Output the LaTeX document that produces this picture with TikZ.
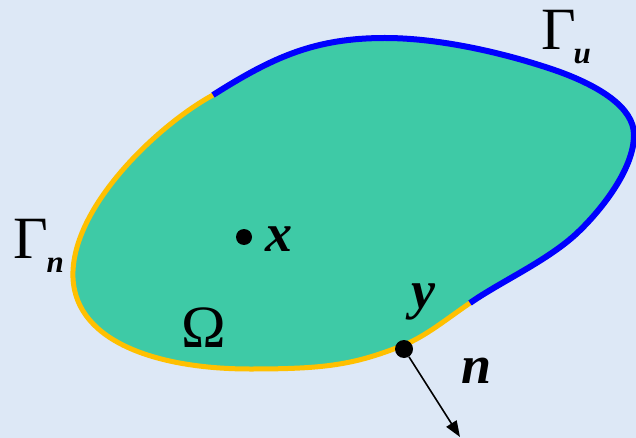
\documentclass[tikz,border=0pt]{standalone}
\usepackage{fontspec}
\setmainfont{Liberation Serif}
\usetikzlibrary{arrows.meta}
\definecolor{bgblue}{RGB}{221,232,246}
\definecolor{regionfill}{RGB}{62,202,166}
\definecolor{bdyellow}{RGB}{255,192,0}
\definecolor{bdblue}{RGB}{0,0,255}
\newcommand{\subsym}[1]{{\fontsize{31}{31}\selectfont\bfseries\itshape #1}}
\tikzset{
  lbl/.style={inner sep=0pt, outer sep=0pt, anchor=center, text=black},
  bigsym/.style={lbl, font=\fontsize{60}{60}\selectfont},
  bivar/.style={lbl, font=\fontsize{54}{54}\selectfont\bfseries\itshape},
  pointdot/.style={circle, fill=black, inner sep=0pt},
}
\begin{document}
\begin{tikzpicture}[x=1pt,y=-1pt]
\fill[bgblue] (0,0) rectangle (636,438);
\useasboundingbox (0,0) rectangle (636,438);
\coordinate (P1) at (213,95);
\coordinate (P2) at (385,38);
\coordinate (P3) at (560,72);
\coordinate (P4) at (634,135);
\coordinate (P5) at (575,235);
\coordinate (P6) at (470,303);
\coordinate (P7) at (404,345);
\coordinate (P8) at (250,369);
\coordinate (P9) at (73,278);
% region with yellow boundary
\path[fill=regionfill, draw=bdyellow, line width=5pt]
  (P1) .. controls +(60,-38) and +(-70,0) .. (P2)
       .. controls +(60,0) and +(-45,-16) .. (P3)
       .. controls +(38,14) and +(0,-28) .. (P4)
       .. controls +(0,35) and +(24,-22) .. (P5)
       .. controls +(-30,27) and +(30,-21) .. (P6)
       .. controls +(-22,15) and +(22,-9) .. (P7)
       .. controls +(-50,20) and +(75,0) .. (P8)
       .. controls +(-90,0) and +(3,65) .. (P9)
       .. controls +(-3,-70) and +(-55,30) .. (P1) -- cycle;
% blue part of the boundary
\draw[bdblue, line width=6pt, line cap=butt]
  (P1) .. controls +(60,-38) and +(-70,0) .. (P2)
       .. controls +(60,0) and +(-45,-16) .. (P3)
       .. controls +(38,14) and +(0,-28) .. (P4)
       .. controls +(0,35) and +(24,-22) .. (P5)
       .. controls +(-30,27) and +(30,-21) .. (P6);
% labels
\node[bigsym, anchor=base west] (gu) at (541,50) {Γ\hspace{-2pt}\raisebox{-14pt}{\subsym{u}}};
\node[bigsym, anchor=base west] (gn) at (13,258) {Γ\hspace{-1pt}\raisebox{-14pt}{\subsym{n}}};
\node[bigsym] (om) at (204,328) {Ω};
\node[pointdot, minimum size=16pt] (xdot) at (244,237) {};
\node[bivar] (xl) at (279,239) {x};
\node[bivar] (yl) at (423,302) {y};
\node[bivar] (nl) at (477,371) {n};
\node[pointdot, minimum size=18pt] (ydot) at (404,349) {};
\coordinate (ntip) at (460,437);
\draw[line width=1.6pt, -{Triangle[length=16pt,width=12pt]}] (ydot) -- (ntip);
\end{tikzpicture}
\end{document}
